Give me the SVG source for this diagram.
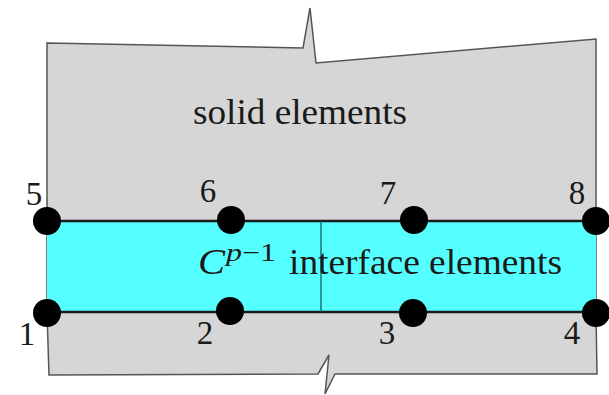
<svg xmlns="http://www.w3.org/2000/svg" width="609" height="395" viewBox="0 0 609 395">
<style>
.t{font-family:"Liberation Serif","Times New Roman",serif;font-size:36px;fill:#1a1a1a}
.n{font-family:"Liberation Serif","Times New Roman",serif;font-size:33px;fill:#1a1a1a;text-anchor:middle}
.i{font-style:italic}
.d{fill:#000}
</style>
<rect width="609" height="395" fill="#fff"/>
<g id="solid">
<polygon points="47,43 303,48 310,8 316,63 596,39 596,312 597,374 335,374 325,394 329,355 318,374 49,375 47,312" fill="#d6d6d6" stroke="#555" stroke-width="1.5"/>
<text class="t" x="193" y="124" textLength="214" lengthAdjust="spacingAndGlyphs">solid elements</text>
</g>
<g id="interface">
<rect x="47" y="221" width="549" height="91" fill="#55ffff"/>
<g fill="none" stroke="#1a1a1a">
<path d="M47 221H596M47 312H596" stroke-width="2.5"/>
<path d="M321 221V312" stroke="#0f5f5f" stroke-width="1.3"/>
</g>
<text class="t i" x="198" y="274" textLength="27" lengthAdjust="spacingAndGlyphs">C</text>
<text x="226" y="261" font-family="Liberation Serif,serif" font-size="25" fill="#1a1a1a" textLength="50" lengthAdjust="spacingAndGlyphs"><tspan font-style="italic">p</tspan>−1</text>
<text class="t" x="289" y="274" textLength="273" lengthAdjust="spacingAndGlyphs">interface elements</text>
</g>
<g id="connectors"></g>
<g id="node1"><circle class="d" cx="47" cy="313" r="14"/><text class="n" x="27" y="345">1</text></g>
<g id="node2"><circle class="d" cx="230" cy="311" r="14"/><text class="n" x="205" y="344">2</text></g>
<g id="node3"><circle class="d" cx="413" cy="313" r="14"/><text class="n" x="387" y="344">3</text></g>
<g id="node4"><circle class="d" cx="596" cy="313" r="14"/><text class="n" x="572" y="344">4</text></g>
<g id="node5"><circle class="d" cx="47" cy="221" r="14"/><text class="n" x="34" y="205">5</text></g>
<g id="node6"><circle class="d" cx="231" cy="220" r="14"/><text class="n" x="208" y="202">6</text></g>
<g id="node7"><circle class="d" cx="414" cy="220" r="14"/><text class="n" x="388" y="204">7</text></g>
<g id="node8"><circle class="d" cx="596" cy="221" r="14"/><text class="n" x="577" y="204">8</text></g>
</svg>
